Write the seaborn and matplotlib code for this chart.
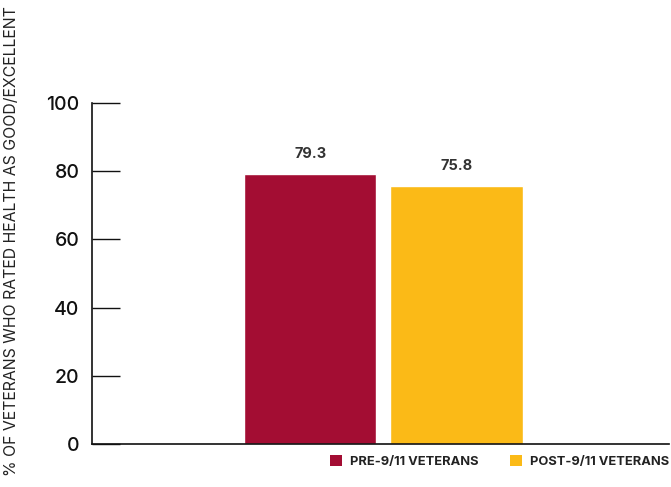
import matplotlib
matplotlib.use("Agg")
import matplotlib.pyplot as plt
from matplotlib.patches import Patch
import seaborn as sns
import pandas as pd

# Share of veterans rating their health as good or excellent
groups = ["PRE-9/11 VETERANS", "POST-9/11 VETERANS"]
values = [79.3, 75.8]
colors = ["#A30D33", "#FBBA17"]
y_ticks = [0, 20, 40, 60, 80, 100]

df = pd.DataFrame({"cohort": ["all"] * len(groups), "group": groups, "value": values})

sns.set_style("white")
plt.rcParams["font.family"] = ["Inter", "DejaVu Sans"]

fig = plt.figure(figsize=(6.71, 4.87), dpi=100)
ax = fig.add_axes([92 / 671, 43 / 487, 577 / 671, 341 / 487])

sns.barplot(data=df, x="cohort", y="value", hue="group", hue_order=groups,
            palette=colors, width=0.507, gap=0.096, saturation=1, legend=False, ax=ax)

for container in ax.containers:
    ax.bar_label(container, fmt="%.1f", padding=9, fontsize=10.5,
                 fontweight="bold", color="#333333")

ax.set_xlim(-0.505, 0.495)
ax.set_ylim(0, 100)
ax.set_yticks(y_ticks)
ax.set_xticks([])
ax.set_xlabel("")
ax.set_ylabel("")
ax.tick_params(axis="y", direction="in", length=20, width=1, pad=9,
               labelsize=14, color="#111111", labelcolor="#111111", left=True)
for lbl in ax.get_yticklabels():
    lbl.set_fontweight("medium")
for side in ["top", "right"]:
    ax.spines[side].set_visible(False)
for side in ["left", "bottom"]:
    ax.spines[side].set_color("#111111")
    ax.spines[side].set_linewidth(1.2)

fig.text(12 / 671, 1 - 6 / 487, "% OF VETERANS WHO RATED HEALTH AS GOOD/EXCELLENT",
         rotation=90, ha="center", va="top", fontsize=11.4, color="#222222")

handles = [Patch(facecolor=c, edgecolor="none") for c in colors]
fig.legend(handles, groups, loc="upper right", bbox_to_anchor=(0.997, 32 / 487),
           ncol=2, frameon=False, handlelength=0.9, handleheight=0.9,
           handletextpad=0.6, columnspacing=2.5, borderaxespad=0, borderpad=0,
           prop={"size": 9.3, "weight": "bold"}, labelcolor="#222222")

fig.savefig("out.png", dpi=100)
